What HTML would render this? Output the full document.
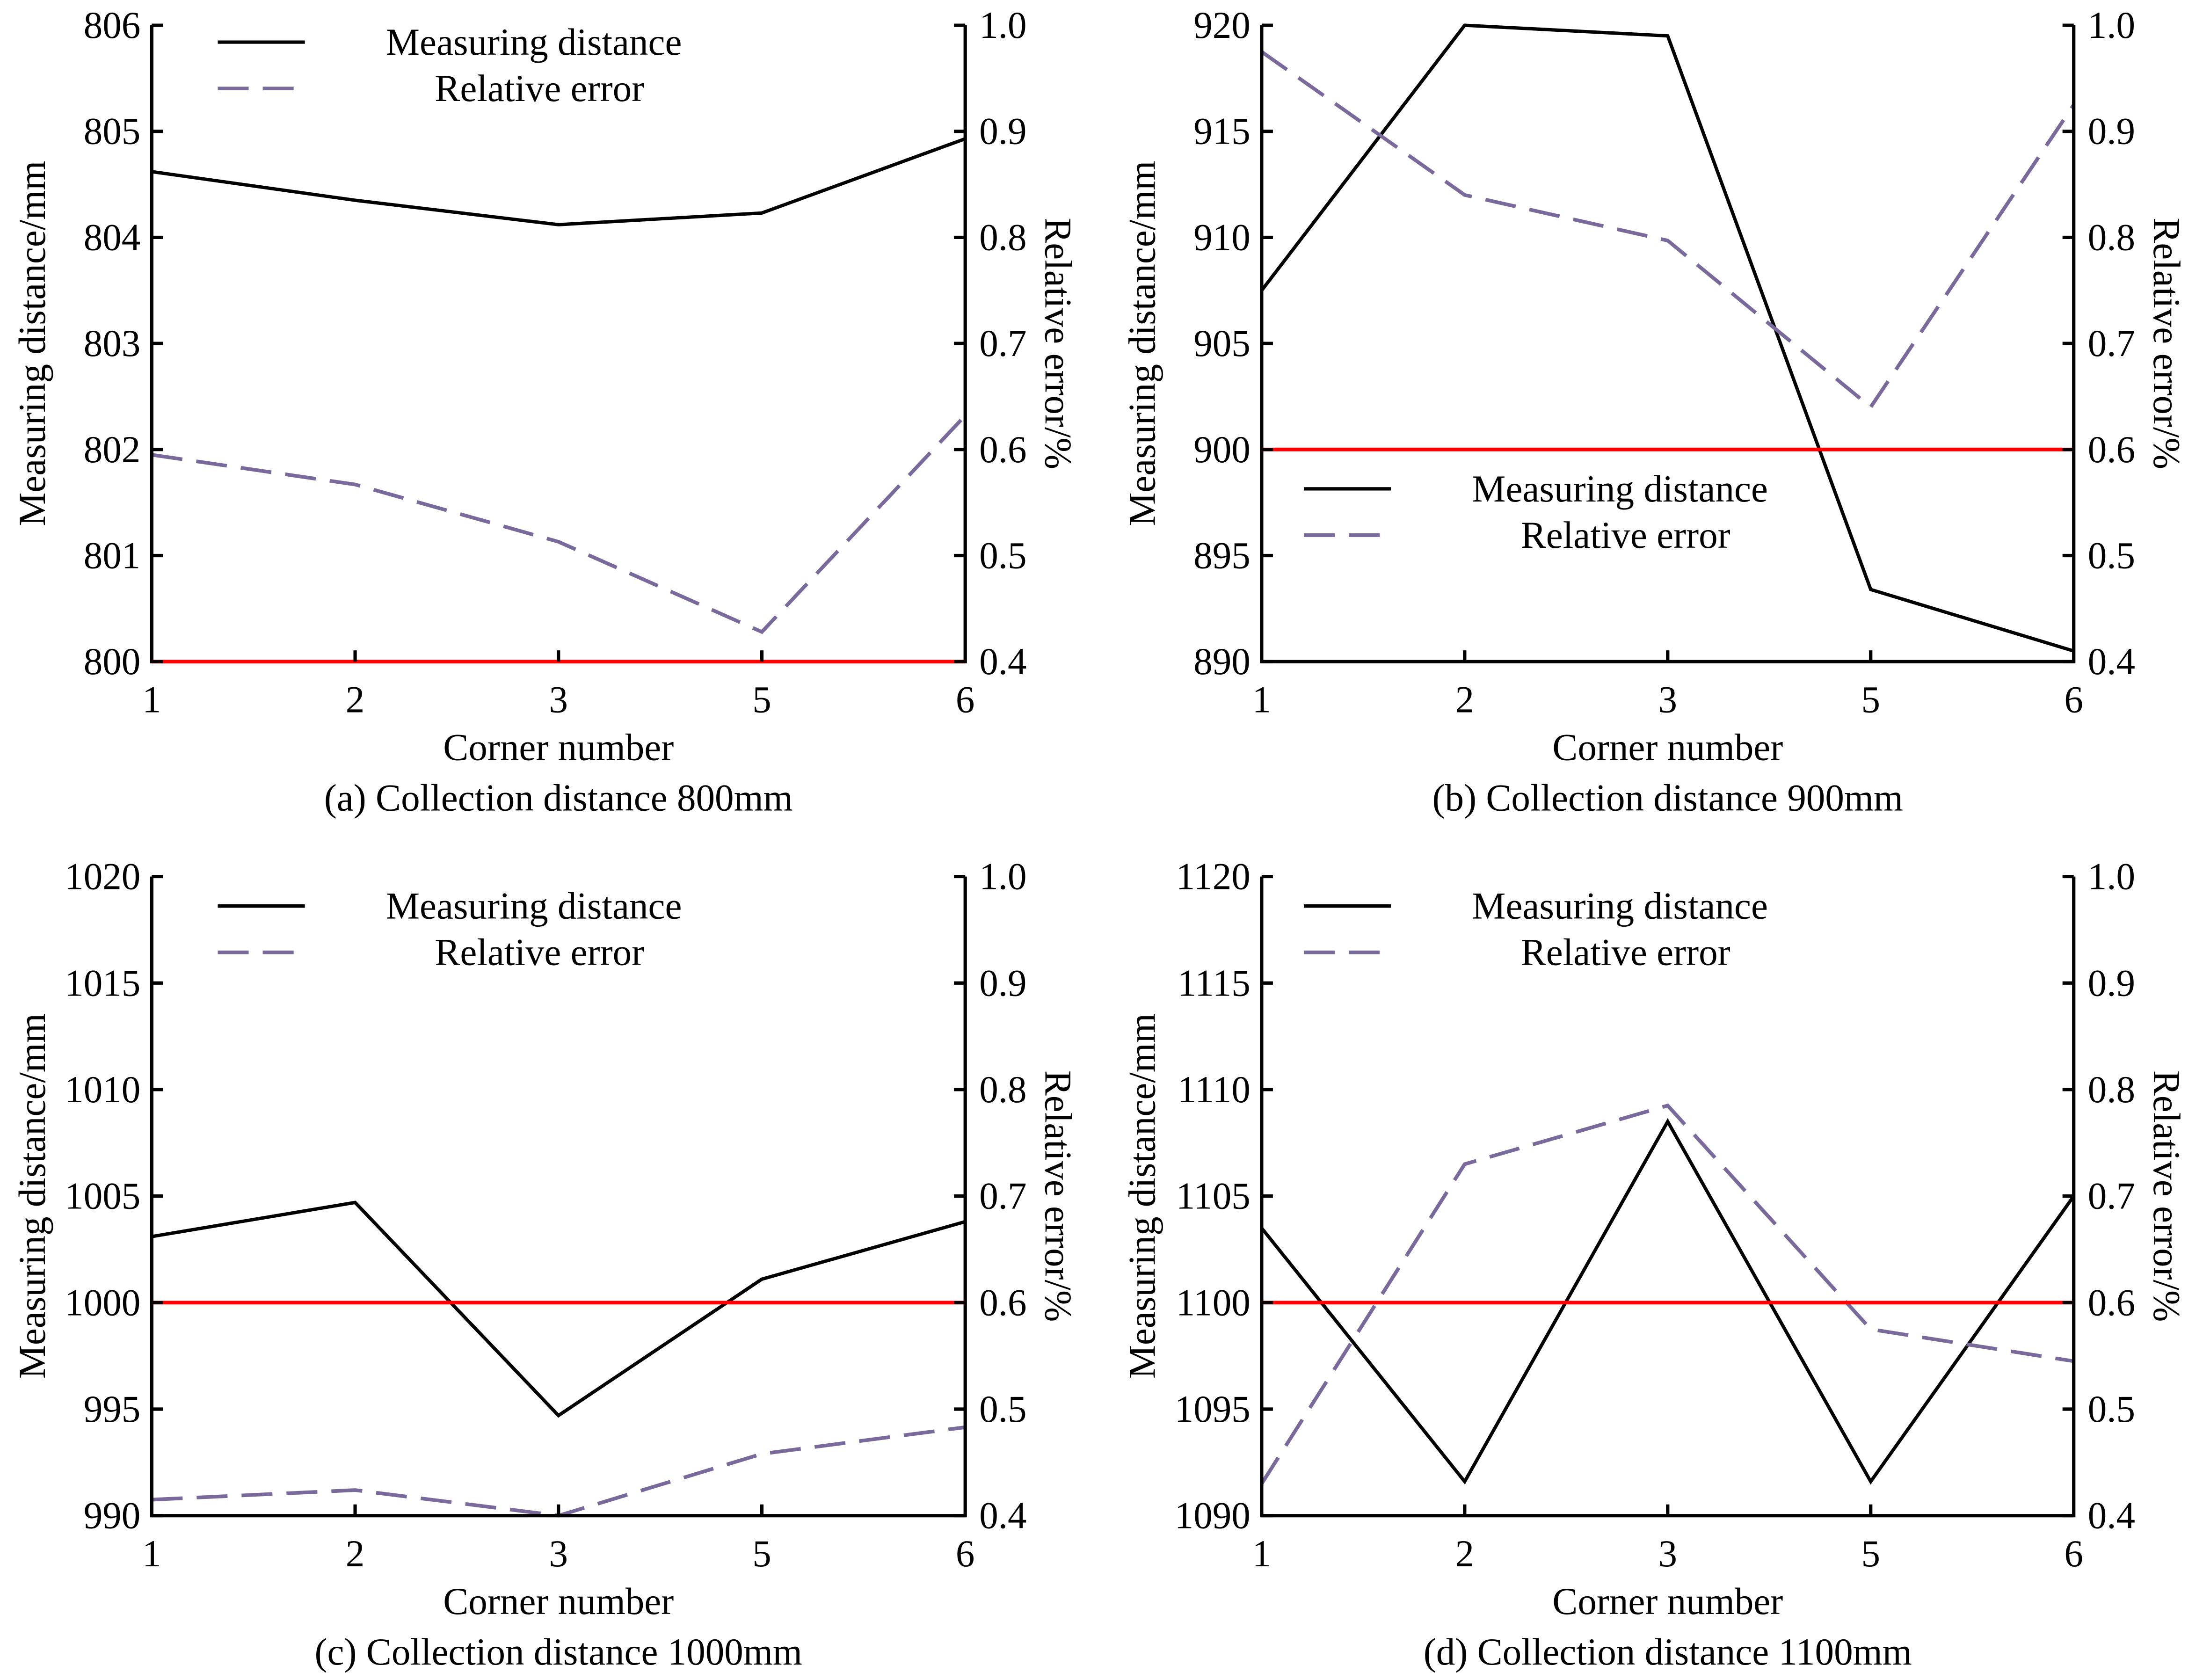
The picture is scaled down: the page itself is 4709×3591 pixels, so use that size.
<!DOCTYPE html>
<html><head><meta charset="utf-8"><style>
html,body{margin:0;padding:0;background:#fff;}
svg{display:block;}
text{font-family:"Liberation Serif","Times New Roman",serif;fill:#000;}
</style></head><body>
<svg id="fig" width="4709" height="3591" viewBox="0 0 1568 1196" preserveAspectRatio="none" xmlns="http://www.w3.org/2000/svg"></svg>
<script>
const categories = ["1","2","3","5","6"];
const distA = [804.62, 804.35, 804.12, 804.23, 804.93];
const errA  = [0.595, 0.567, 0.513, 0.428, 0.632];
const distB = [907.5, 920.0, 919.5, 893.4, 890.5];
const errB  = [0.975, 0.840, 0.797, 0.640, 0.925];
const distC = [1003.1, 1004.7, 994.7, 1001.1, 1003.8];
const errC  = [0.415, 0.424, 0.400, 0.458, 0.483];
const distD = [1103.5, 1091.6, 1108.5, 1091.6, 1105.0];
const errD  = [0.430, 0.730, 0.785, 0.575, 0.545];
const leftTicksA = [800,801,802,803,804,805,806];
const leftTicksB = [890,895,900,905,910,915,920];
const leftTicksC = [990,995,1000,1005,1010,1015,1020];
const leftTicksD = [1090,1095,1100,1105,1110,1115,1120];
const rightTicks = ["0.4","0.5","0.6","0.7","0.8","0.9","1.0"];
const refLines = [800, 900, 1000, 1100];
const captions = ["(a) Collection distance 800mm","(b) Collection distance 900mm","(c) Collection distance 1000mm","(d) Collection distance 1100mm"];

const svg = document.getElementById('fig');
const NS = 'http://www.w3.org/2000/svg';
const FF = '"Liberation Serif", "Times New Roman", serif';
function mk(tag, attrs, parent){const e=document.createElementNS(NS,tag);for(const k in attrs)e.setAttribute(k,attrs[k]);if(tag==='text')e.setAttribute('font-family',FF);(parent||svg).appendChild(e);return e;}

const panels = [
 {x0:108,x1:687,y0:18,y1:471,dist:distA,err:errA,lt:leftTicksA,ref:refLines[0],cap:captions[0],leg:[30,63],legX:155,id:'a'},
 {x0:898,x1:1476,y0:18,y1:471,dist:distB,err:errB,lt:leftTicksB,ref:refLines[1],cap:captions[1],leg:[348,381],legX:928,id:'b'},
 {x0:108,x1:687,y0:624,y1:1079,dist:distC,err:errC,lt:leftTicksC,ref:refLines[2],cap:captions[2],leg:[645,678],legX:155,id:'c'},
 {x0:898,x1:1476,y0:624,y1:1079,dist:distD,err:errD,lt:leftTicksD,ref:refLines[3],cap:captions[3],leg:[645,678],legX:928,id:'d'}
];

panels.forEach(p=>{
  const g = mk('g',{});
  
  
  const lmin=p.lt[0], lmax=p.lt[p.lt.length-1];
  const yL = v => p.y1 - (v-lmin)/(lmax-lmin)*(p.y1-p.y0);
  const yR = v => p.y1 - (v-0.4)/(0.6)*(p.y1-p.y0);
  const xS = i => p.x0 + i*(p.x1-p.x0)/(categories.length-1);
  // series
  const dl = mk('polyline',{points:p.dist.map((v,i)=>xS(i)+','+yL(v)).join(' '),fill:'none',stroke:'#000','stroke-width':2.4},g);
  
  
  const el = mk('polyline',{points:p.err.map((v,i)=>xS(i)+','+yR(v)).join(' '),fill:'none',stroke:'#7a6a9c','stroke-width':2.6,'stroke-dasharray':'22,10'},g);
  
  
  // axes
  const ax = mk('path',{d:`M${p.x0},${p.y0} L${p.x0},${p.y1} L${p.x1},${p.y1} L${p.x1},${p.y0}`,fill:'none',stroke:'#000','stroke-width':2.4},g);
  
  
  // red reference (drawn over axis)
  const rl = mk('line',{x1:p.x0,x2:p.x1,y1:yL(p.ref),y2:yL(p.ref),stroke:'#f00','stroke-width':2.6},g);
  
  
  p.lt.forEach((t,i)=>{
    const y=yL(t);
    mk('line',{x1:p.x0,x2:p.x0+8,y1:y,y2:y,stroke:'#000','stroke-width':2.4},g);
    const tx=mk('text',{x:p.x0-8,y:y+9,'text-anchor':'end','font-size':27},g);
    tx.textContent=t;
    
    
    mk('line',{x1:p.x1,x2:p.x1-8,y1:y,y2:y,stroke:'#000','stroke-width':2.4},g);
    const rx=mk('text',{x:p.x1+10,y:y+9,'text-anchor':'start','font-size':27},g);
    rx.textContent=rightTicks[i];
    
    
  });
  categories.forEach((c,i)=>{
    const x=xS(i);
    if(i>0&&i<categories.length-1) mk('line',{x1:x,x2:x,y1:p.y1,y2:p.y1-8,stroke:'#000','stroke-width':2.4},g);
    const t=mk('text',{x:x,y:p.y1+36,'text-anchor':'middle','font-size':27},g);
    t.textContent=c;
    
    
  });
  const xt=mk('text',{x:(p.x0+p.x1)/2,y:p.y1+70,'text-anchor':'middle','font-size':27},g);
  xt.textContent='Corner number';
  
  
  const cp=mk('text',{x:(p.x0+p.x1)/2,y:p.y1+106,'text-anchor':'middle','font-size':27},g);
  cp.textContent=p.cap;
  
  
  const cy=(p.y0+p.y1)/2;
  const yt=mk('text',{x:0,y:0,'text-anchor':'middle','font-size':27,transform:`translate(${p.x0-76},${cy}) rotate(-90)`},g);
  yt.textContent='Measuring distance/mm';
  
  
  const yr=mk('text',{x:0,y:0,'text-anchor':'middle','font-size':27,transform:`translate(${p.x1+57},${cy}) rotate(90)`},g);
  yr.textContent='Relative error/%';
  
  
  // legend
  const lg=mk('g',{},g);
  
  
  mk('line',{x1:p.legX,x2:p.legX+62,y1:p.leg[0],y2:p.leg[0],stroke:'#000','stroke-width':2.4},lg);
  mk('line',{x1:p.legX,x2:p.legX+62,y1:p.leg[1],y2:p.leg[1],stroke:'#7a6a9c','stroke-width':2.6,'stroke-dasharray':'22,10'},lg);
  const l1=mk('text',{x:p.legX+225,y:p.leg[0]+9,'text-anchor':'middle','font-size':27},lg);
  l1.textContent='Measuring distance';
  
  
  const l2=mk('text',{x:p.legX+229,y:p.leg[1]+9,'text-anchor':'middle','font-size':27},lg);
  l2.textContent='Relative error';
  
  
});
</script>
</body></html>
